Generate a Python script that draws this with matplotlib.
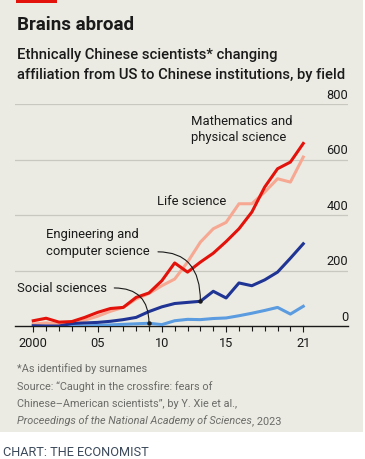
import matplotlib
matplotlib.use("Agg")
import matplotlib.pyplot as plt
from matplotlib.patches import Rectangle

plt.rcParams['font.family'] = ['Roboto', 'DejaVu Sans']

# data
years = list(range(2000, 2022))
maths = [20, 29, 15, 17, 32, 50, 64, 68, 104, 120, 164, 228, 195, 231, 263, 305, 351, 411, 501, 567, 591, 658]
life = [8, 12, 8, 14, 22, 36, 54, 68, 98, 118, 146, 170, 231, 303, 351, 374, 441, 441, 483, 531, 519, 609]
engineering = [2, 1, 1, 10, 12, 14, 18, 24, 32, 53, 70, 82, 86, 90, 126, 102, 156, 146, 167, 195, 245, 297]
social = [0, 0, 0, 0, 1, 3, 5, 7, 9, 11, 6, 20, 25, 24, 28, 30, 38, 47, 57, 68, 44, 72]

yticks = [0, 200, 400, 600, 800]
xtick_pos = [2000, 2005, 2010, 2015, 2021]
xtick_labels = ['2000', '05', '10', '15', '21']

BG = '#ebebe3'
RED = '#e3120b'
PINK = '#f7a893'
NAVY = '#1f3494'
LBLUE = '#5b9be0'
TXT = '#1a1a1a'
GREY = '#6b6b68'

W, H = 365, 460
fig = plt.figure(figsize=(W / 100, H / 100), dpi=100)
fig.patch.set_facecolor('white')

# beige panel and red tag
fig.patches.append(Rectangle((0, 1 - 433 / H), 363 / W, 433 / H, transform=fig.transFigure,
                             facecolor=BG, edgecolor='none', zorder=-10))
fig.patches.append(Rectangle((16 / W, 1 - 4 / H), 41 / W, 4 / H, transform=fig.transFigure,
                             facecolor=RED, edgecolor='none', zorder=-5))

ax = fig.add_axes([15 / W, 1 - 327.3 / H, 333 / W, 222.3 / H])
ax.set_facecolor('none')
ax.set_xlim(1998.58, 2024.48)
ax.set_ylim(0, 800)

for v in yticks[1:]:
    ax.axhline(v, color='#c8c8c0', lw=0.9, zorder=0)
for v in yticks:
    ax.annotate(str(v), xy=(1, v), xycoords=('axes fraction', 'data'), xytext=(0, 2.5),
                textcoords='offset points', ha='right', va='bottom', fontsize=9.2, color=TXT)

ax.plot(years, social, color=LBLUE, lw=2.2, zorder=3, solid_joinstyle='round')
ax.plot(years, life, color=PINK, lw=2.2, zorder=3, solid_joinstyle='round')
ax.plot(years, engineering, color=NAVY, lw=2.2, zorder=4, solid_joinstyle='round')
ax.plot(years, maths, color=RED, lw=2.2, zorder=5, solid_joinstyle='round')

for s in ['top', 'right', 'left']:
    ax.spines[s].set_visible(False)
ax.spines['bottom'].set_color(TXT)
ax.spines['bottom'].set_linewidth(1.0)
ax.set_yticks([])
ax.set_xticks(years, minor=True)
ax.set_xticks(xtick_pos)
ax.set_xticklabels(xtick_labels, fontsize=9.2, color=TXT)
ax.tick_params(axis='x', which='major', length=4.5, width=0.8, color=TXT, pad=2.5)
ax.tick_params(axis='x', which='minor', length=3.5, width=0.8, color=TXT)

# labels
ax.text(2012.3, 765, 'Mathematics and\nphysical science', fontsize=9.4, color=TXT,
        va='top', ha='left', linespacing=1.35)
ax.text(2009.6, 477, 'Life science', fontsize=9.4, color=TXT, va='top', ha='left')
ax.text(2001.0, 356, 'Engineering and\ncomputer science', fontsize=9.4, color=TXT,
        va='top', ha='left', linespacing=1.35)
ax.text(1998.7, 162, 'Social sciences', fontsize=9.4, color=TXT, va='top', ha='left')

ax.annotate('', xy=(2013, engineering[13]), xytext=(2009.7, 268),
            arrowprops=dict(arrowstyle='-', color=TXT, lw=0.8,
                            connectionstyle='angle3,angleA=0,angleB=90', shrinkA=0, shrinkB=0), zorder=6)
ax.plot(2013, engineering[13], 'o', color=TXT, ms=2.2, zorder=7)
ax.annotate('', xy=(2009, social[9]), xytext=(2006.3, 138),
            arrowprops=dict(arrowstyle='-', color=TXT, lw=0.8,
                            connectionstyle='angle3,angleA=0,angleB=90', shrinkA=0, shrinkB=0), zorder=6)
ax.plot(2009, social[9], 'o', color=TXT, ms=2.2, zorder=7)

# titles
fig.text(17 / W, 1 - 30 / H, 'Brains abroad', fontsize=13.5, fontweight='bold', color=TXT, va='baseline')
fig.text(17 / W, 1 - 59 / H, 'Ethnically Chinese scientists* changing', fontsize=10.6,
         fontweight='medium', color=TXT, va='baseline')
fig.text(17 / W, 1 - 79 / H, 'affiliation from US to Chinese institutions, by field', fontsize=10.6,
         fontweight='medium', color=TXT, va='baseline')

# footnotes
FS = 7.8
fig.text(17 / W, 1 - 372 / H, '*As identified by surnames', fontsize=FS, color=GREY, va='baseline')
fig.text(17 / W, 1 - 389.5 / H, 'Source: \u201cCaught in the crossfire: fears of', fontsize=FS,
         color=GREY, va='baseline')
fig.text(17 / W, 1 - 407 / H, 'Chinese\u2013American scientists\u201d, by Y. Xie et al.,', fontsize=FS,
         color=GREY, va='baseline')
it = fig.text(17 / W, 1 - 424.5 / H, 'Proceedings of the National Academy of Sciences', fontsize=FS,
              color=GREY, va='baseline', style='italic')
r = fig.canvas.get_renderer()
bb = it.get_window_extent(renderer=r)
fig.text(bb.x1 / W + 0.5 / W, 1 - 424.5 / H, ', 2023', fontsize=FS, color=GREY, va='baseline')

fig.text(3 / W, 1 - 456.5 / H, 'CHART: THE ECONOMIST', fontsize=9.2, color='#3c4a5c', va='baseline')

fig.savefig('out.png', dpi=100, facecolor='white')
